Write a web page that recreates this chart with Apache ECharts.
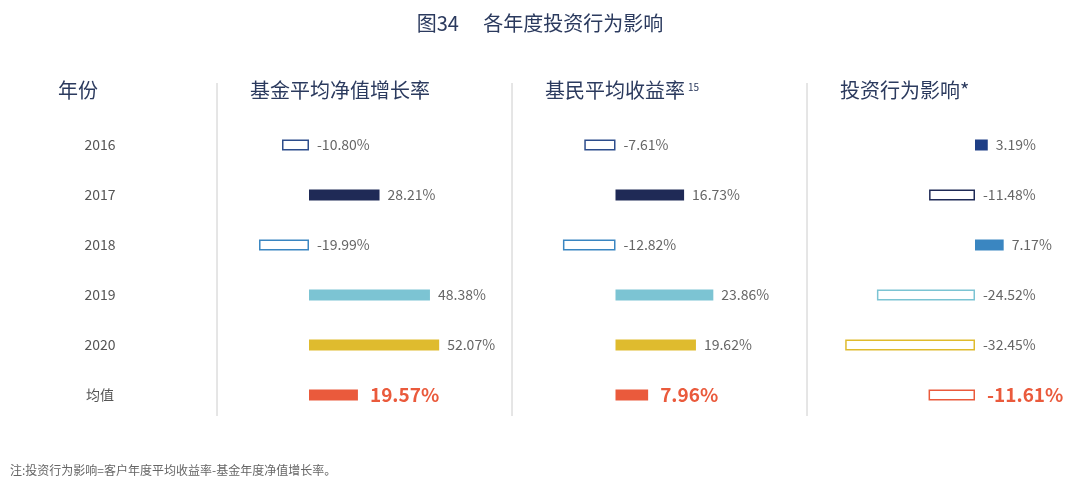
<!DOCTYPE html>
<html><head><meta charset="utf-8">
<script src="https://cdn.jsdelivr.net/npm/echarts@6/dist/echarts.min.js"></script>
<style>html,body{margin:0;background:#fff}#c{width:1080px;height:484px}</style>
</head><body><div id="c"></div>
<script>
const years = ["2016", "2017", "2018", "2019", "2020", "均值"];
const fundGrowth = [-10.80, 28.21, -19.99, 48.38, 52.07, 19.57];
const investorReturn = [-7.61, 16.73, -12.82, 23.86, 19.62, 7.96];
const behaviorEffect = [3.19, -11.48, 7.17, -24.52, -32.45, -11.61];
const rowColors = ["#2d4d8c", "#1f2a56", "#3a86c1", "#7cc4d3", "#dfbb2e", "#ea5a3c"];

const chart = echarts.init(document.getElementById("c"));
const font = "'Noto Sans CJK SC', 'Noto Sans', sans-serif";

function barData(vals) {
  return vals.map((v, i) => {
    const col = (i === 0 && v > 0) ? "#1f3f86" : rowColors[i];
    const mean = i === vals.length - 1;
    return {
      value: v,
      itemStyle: v >= 0
        ? { color: col }
        : { color: "#fff", borderColor: col, borderWidth: 1.5 },
      label: mean
        ? { fontSize: 19, fontWeight: "bold", color: "#ea5a3c", distance: 12 }
        : {}
    };
  });
}

const grids = [
  { left: 234, width: 225, min: -30, max: 60 },
  { left: 554, width: 205, min: -15, max: 35 },
  { left: 835, width: 200, min: -35, max: 15 }
];
const series = [fundGrowth, investorReturn, behaviorEffect];

chart.setOption({
  animation: false,
  textStyle: { fontFamily: font },
  grid: grids.map(g => ({ left: g.left, width: g.width, top: 120, height: 300 })),
  xAxis: grids.map((g, i) => ({
    type: "value", gridIndex: i, min: g.min, max: g.max, show: false
  })),
  yAxis: grids.map((g, i) => ({
    type: "category", gridIndex: i, data: years, inverse: true,
    axisLine: { show: false }, axisTick: { show: false }, splitLine: { show: false },
    axisLabel: i === 0
      ? { show: true, align: "center", margin: 134, color: "#555", fontSize: 14 }
      : { show: false }
  })),
  series: series.map((vals, i) => ({
    type: "bar", xAxisIndex: i, yAxisIndex: i, barWidth: 11,
    data: barData(vals),
    label: {
      show: true, position: "right", distance: 8, color: "#666", fontSize: 14,
      formatter: p => p.value.toFixed(2) + "%"
    }
  })),
  graphic: [
    { type: "text", left: "center", top: 13, style: { text: "图34　 各年度投资行为影响", fill: "#2b3a5e", font: "20px " + font } },
    { type: "text", x: 58, y: 80, style: { text: "年份", fill: "#2b3a5e", font: "20px " + font } },
    { type: "text", x: 250, y: 80, style: { text: "基金平均净值增长率", fill: "#2b3a5e", font: "20px " + font } },
    { type: "text", x: 545, y: 80, style: { text: "基民平均收益率", fill: "#2b3a5e", font: "20px " + font } },
    { type: "text", x: 688, y: 82, style: { text: "15", fill: "#2b3a5e", font: "10px " + font } },
    { type: "text", x: 840, y: 80, style: { text: "投资行为影响*", fill: "#2b3a5e", font: "20px " + font } },
    { type: "line", shape: { x1: 217, y1: 83, x2: 217, y2: 416 }, style: { stroke: "#ccc", lineWidth: 1 } },
    { type: "line", shape: { x1: 512, y1: 83, x2: 512, y2: 416 }, style: { stroke: "#ccc", lineWidth: 1 } },
    { type: "line", shape: { x1: 807, y1: 83, x2: 807, y2: 416 }, style: { stroke: "#ccc", lineWidth: 1 } },
    { type: "text", x: 10, y: 464, style: { text: "注:投资行为影响=客户年度平均收益率-基金年度净值增长率。", fill: "#666", font: "12px " + font } }
  ]
});
</script></body></html>
